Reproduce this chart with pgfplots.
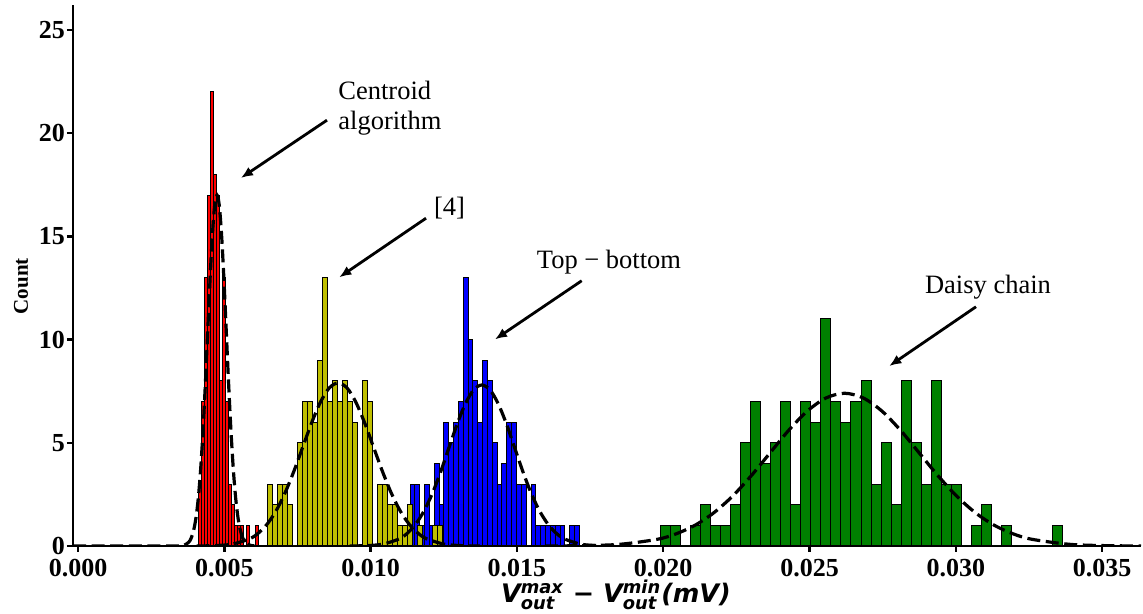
\documentclass[border=0pt]{standalone}
\usepackage{fontspec}
\setmainfont{Liberation Serif}
\newfontfamily\djsans{DejaVu Sans}
\usepackage{amsmath}
\usepackage{pgfplots}
\pgfplotsset{compat=1.18}
\usetikzlibrary{arrows.meta}
\definecolor{hr}{rgb}{1,0,0}
\definecolor{hy}{rgb}{0.75,0.75,0}
\definecolor{hb}{rgb}{0,0,1}
\definecolor{hg}{rgb}{0,0.5,0}
\begin{document}
\begin{tikzpicture}
\begin{axis}[
 scale only axis, width=534pt, height=270.5pt,
 xmin=-0.000171, xmax=0.03633, ymin=0, ymax=26.21,
 scaled x ticks=false, scaled y ticks=false,
 axis x line=bottom, axis y line=left,
 axis line style={line width=1.2pt,-},
 tick align=outside, major tick length=3pt,
 tick style={line width=1.2pt, black},
 xtick={0,0.005,0.01,0.015,0.02,0.025,0.03,0.035},
 xticklabels={0.000,0.005,0.010,0.015,0.020,0.025,0.030,0.035},
 ytick={0,5,10,15,20,25},
 yticklabels={0,5,10,15,20,25},
 ticklabel style={font=\bfseries\fontsize{13}{15}\selectfont},
 yticklabel style={xshift=2.5pt},
 ylabel={Count},
 ylabel style={font=\bfseries\fontsize{10.5}{12}\selectfont, at={(axis description cs:-0.0487,0.48)}, anchor=center},
 xlabel={\djsans\bfseries\itshape V$^{\text{max}}_{\text{out}}$ − V$^{\text{min}}_{\text{out}}$(mV)},
 xlabel style={font=\fontsize{12.75}{14}\selectfont, at={(axis description cs:0.5084,0)}, anchor=center, yshift=-24.5pt},
]
% green
\addplot[ybar interval, fill=hg, draw=black, line width=0.5pt] coordinates {
(0.019891,1) (0.0202345,1) (0.020578,0) (0.0209215,1) (0.021265,2) (0.0216085,1) (0.021952,1) (0.0222955,2) (0.022639,5) (0.0229825,7)
(0.023326,4) (0.0236695,5) (0.024013,7) (0.0243565,2) (0.0247,7) (0.0250435,6) (0.025387,11) (0.0257305,7) (0.026074,6) (0.0264175,7)
(0.026761,8) (0.0271045,3) (0.027448,5) (0.0277915,2) (0.028135,8) (0.0284785,5) (0.028822,3) (0.0291655,8) (0.029509,3) (0.0298525,3)
(0.030196,0) (0.0305395,1) (0.030883,2) (0.0312265,0) (0.03157,1) (0.0319135,0) (0.032257,0) (0.0326005,0) (0.032944,0) (0.0332875,1)
(0.033631,0)};
% blue
\addplot[ybar interval, fill=hb, draw=black, line width=0.5pt] coordinates {
(0.011347,3) (0.0115124,3) (0.0116778,1) (0.0118432,3) (0.0120086,1) (0.012174,4) (0.0123394,2) (0.0125048,6) (0.0126702,5) (0.0128356,6)
(0.013001,7) (0.0131664,13) (0.0133318,10) (0.0134972,8) (0.0136626,6) (0.013828,9) (0.0139934,8) (0.0141588,5) (0.0143242,3) (0.0144896,4)
(0.014655,6) (0.0148204,6) (0.0149858,3) (0.0151512,3) (0.0153166,0) (0.015482,3) (0.0156474,1) (0.0158128,1) (0.0159782,1) (0.0161436,1)
(0.016309,1) (0.0164744,1) (0.0166398,0) (0.0168052,1) (0.0169706,1) (0.017136,0)};
% yellow
\addplot[ybar interval, fill=hy, draw=black, line width=0.5pt] coordinates {
(0.006483,3) (0.0066539,2) (0.0068248,3) (0.0069957,3) (0.0071666,2) (0.0073375,0) (0.0075084,5) (0.0076793,7) (0.0078502,7) (0.0080211,6)
(0.008192,9) (0.0083629,13) (0.0085338,7) (0.0087047,8) (0.0088756,7) (0.0090465,8) (0.0092174,7) (0.0093883,6) (0.0095592,0) (0.0097301,8)
(0.009901,7) (0.0100719,0) (0.0102428,3) (0.0104137,3) (0.0105846,2) (0.0107555,2) (0.0109264,1) (0.0110973,1) (0.0112682,2) (0.0114391,0)
(0.01161,1) (0.0117809,0) (0.0119518,0) (0.0121227,1) (0.0122936,1) (0.0124645,0)};
% red
\addplot[ybar interval, fill=hr, draw=black, line width=0.5pt] coordinates {
(0.004111,3) (0.0042135,7) (0.004316,13) (0.0044185,17) (0.004521,22) (0.0046235,18) (0.004726,17) (0.0048285,8) (0.004931,13) (0.0050335,7)
(0.005136,3) (0.0052385,2) (0.005341,1) (0.0054435,1) (0.005546,1) (0.0056485,0) (0.005751,1) (0.0058535,0) (0.005956,0) (0.0060585,1)
(0.006161,0)};
% fitted curves
\pgfplotsset{fitline/.style={smooth, black, line width=1.6pt, dash pattern=on 6.5pt off 2.8pt}}
\addplot[fitline] coordinates {
(-0.00017,0) (0.0015,0) (0.003,0.001) (0.00347,0.005) (0.00363,0.04) (0.00379,0.19) (0.00387,0.39) (0.00395,0.75) (0.00403,1.35) (0.00411,2.30)
(0.00419,3.68) (0.00427,5.52) (0.00435,7.78) (0.00443,10.31) (0.00451,12.83) (0.00459,15.00) (0.00467,16.48) (0.00475,17.0) (0.00483,16.48)
(0.00491,15.00) (0.00499,12.83) (0.00507,10.31) (0.00515,7.78) (0.00523,5.52) (0.00531,3.68) (0.00539,2.30) (0.00547,1.35) (0.00555,0.75)
(0.00563,0.39) (0.00571,0.19) (0.00587,0.04) (0.00603,0.005)};
\addplot[fitline] coordinates {
(0.00405,0.003) (0.004655,0.017) (0.00526,0.088) (0.005865,0.347) (0.006168,0.63) (0.00647,1.07) (0.006773,1.71) (0.007075,2.57) (0.007378,3.62)
(0.00768,4.79) (0.007983,5.96) (0.008285,6.97) (0.008588,7.66) (0.00889,7.9) (0.009193,7.66) (0.009495,6.97) (0.009798,5.96) (0.0101,4.79)
(0.010403,3.62) (0.010705,2.57) (0.011008,1.71) (0.01131,1.07) (0.011613,0.63) (0.011915,0.347) (0.01252,0.088) (0.013125,0.017) (0.01373,0.003)};
\addplot[fitline] coordinates {
(0.00928,0.002) (0.009845,0.017) (0.01041,0.087) (0.010975,0.342) (0.011258,0.62) (0.01154,1.06) (0.011823,1.69) (0.012105,2.53) (0.012388,3.57)
(0.01267,4.73) (0.012953,5.89) (0.013235,6.88) (0.013518,7.56) (0.0138,7.8) (0.014083,7.56) (0.014365,6.88) (0.014648,5.89) (0.01493,4.73)
(0.015213,3.57) (0.015495,2.53) (0.015778,1.69) (0.01606,1.06) (0.016343,0.62) (0.016625,0.342) (0.01719,0.087) (0.017755,0.017) (0.01832,0.002)};
\addplot[fitline] coordinates {
(0.01596,0.002) (0.01724,0.016) (0.01852,0.082) (0.0198,0.325) (0.02044,0.589) (0.02108,1.00) (0.02172,1.60) (0.02236,2.40) (0.023,3.39)
(0.02364,4.49) (0.02428,5.59) (0.02492,6.53) (0.02556,7.17) (0.0262,7.4) (0.02684,7.17) (0.02748,6.53) (0.02812,5.59) (0.02876,4.49)
(0.0294,3.39) (0.03004,2.40) (0.03068,1.60) (0.03132,1.00) (0.03196,0.589) (0.0326,0.325) (0.03388,0.082) (0.03516,0.016) (0.03644,0.002)};
% annotations
\node[font=\fontsize{13.25}{15}\selectfont, align=left, anchor=west, inner sep=0pt] at (axis cs:0.008886,21.2) {Centroid\\algorithm};
\node[font=\fontsize{13.25}{15}\selectfont] at (axis cs:0.012697,16.38) {[4]};
\node[font=\fontsize{13.25}{15}\selectfont] at (axis cs:0.018148,13.76) {Top − bottom};
\node[font=\fontsize{13.25}{15}\selectfont] at (axis cs:0.0311,12.55) {Daisy chain};
\draw[line width=1.4pt, -{Latex[length=6pt,width=5pt]}] (axis cs:0.00851,20.63) -- (axis cs:0.00557,17.83);
\draw[line width=1.4pt, -{Latex[length=6pt,width=5pt]}] (axis cs:0.011894,15.88) -- (axis cs:0.008931,13.02);
\draw[line width=1.4pt, -{Latex[length=6pt,width=5pt]}] (axis cs:0.017214,12.85) -- (axis cs:0.014252,10.01);
\draw[line width=1.4pt, -{Latex[length=6pt,width=5pt]}] (axis cs:0.03069,11.59) -- (axis cs:0.027727,8.72);
\end{axis}
\pgfresetboundingbox
\path (current axis.south west) ++(-36.5pt,-34pt) rectangle ++(571.5pt,307pt);
\end{tikzpicture}
\end{document}
